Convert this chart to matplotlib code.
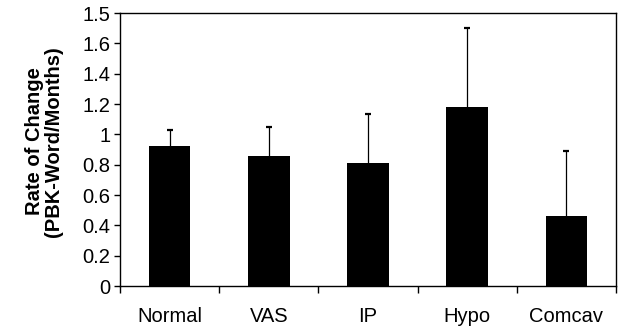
import numpy as np
import matplotlib
matplotlib.use("Agg")
import matplotlib.pyplot as plt

groups = ["Normal", "VAS", "IP", "Hypo", "Comcav"]
rate_mean = [0.925, 0.86, 0.81, 1.18, 0.46]
rate_sd = [0.105, 0.19, 0.325, 0.52, 0.43]
y_ticks = [0, 0.2, 0.4, 0.6, 0.8, 1.0, 1.2, 1.4, 1.6, 1.8]
y_ticklabels = ["0", "0.2", "0.4", "0.6", "0.8", "1", "1.2", "1.4", "1.6", "1.5"]

plt.rcParams["font.family"] = ["Liberation Sans", "DejaVu Sans"]

fig = plt.figure(figsize=(6.4, 3.35), dpi=100)
ax = fig.add_axes([0.1875, 0.146, 0.775, 0.815])

x = np.arange(len(groups))
ax.bar(x, rate_mean, width=0.42, color="black", zorder=2)
# upper half only: drop the cap that would sit on the bar top
_, caps, _ = ax.errorbar(x, rate_mean, yerr=[np.zeros(len(rate_sd)), rate_sd], fmt="none",
                         ecolor="black", elinewidth=0.9, capsize=2.2, capthick=1.6, zorder=1)
caps[0].set_visible(False)

ax.set_xlim(-0.5, len(groups) - 0.5)
ax.set_ylim(0, 1.8)

# category boundaries carry the ticks, names sit under the bars
ax.set_xticks(np.arange(len(groups) + 1) - 0.5)
ax.set_xticklabels([])
ax.set_xticks(x, minor=True)
ax.set_xticklabels(groups, minor=True, fontsize=14.5)
ax.tick_params(axis="x", which="major", direction="out", length=5, width=1)
ax.tick_params(axis="x", which="minor", length=0, pad=15)

ax.set_yticks(y_ticks)
ax.set_yticklabels(y_ticklabels, fontsize=14.5)
ax.tick_params(axis="y", direction="out", length=4, width=1, pad=3)

for side in ["left", "bottom", "top", "right"]:
    ax.spines[side].set_linewidth(1)
    ax.spines[side].set_color("black")

ax.set_ylabel("Rate of Change\n(PBK-Word/Months)", fontsize=14.5, fontweight="bold",
              linespacing=1.0)
ax.yaxis.set_label_coords(-0.115, 0.53)

fig.savefig("out.png", dpi=100)
